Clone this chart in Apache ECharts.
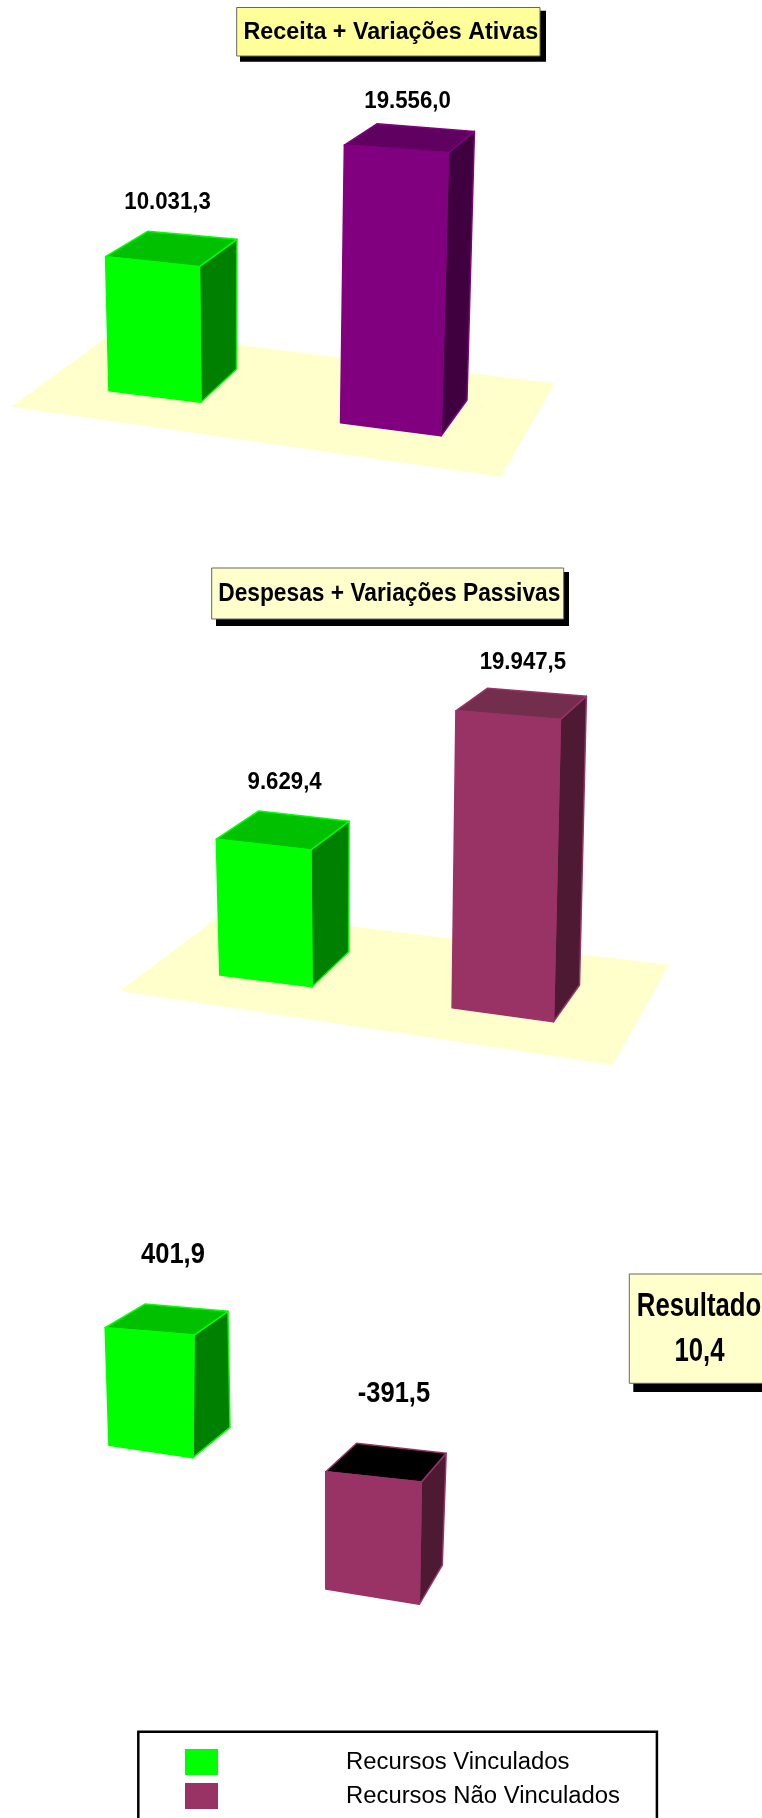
<!DOCTYPE html>
<html>
<head>
<meta charset="utf-8">
<title>Receita x Despesas</title>
<script src="https://cdn.jsdelivr.net/npm/echarts@6/dist/echarts.min.js"></script>
<style>
  html, body { margin: 0; padding: 0; background: #fff; }
  #main { width: 762px; height: 1818px; }
</style>
</head>
<body>
<div id="main"></div>
<script>
const categories = ['Recursos Vinculados', 'Recursos Não Vinculados']
const receitaValues = [10031.3, 19556.0]
const despesaValues = [9629.4, 19947.5]
const resultadoValues = [401.9, -391.5]
const resultadoTotal = 10.4
const receitaTitle = 'Receita + Variações Ativas'
const despesaTitle = 'Despesas + Variações Passivas'
const resultadoTitle = 'Resultado'

const FONT = '"Liberation Sans", Arial, sans-serif'
// 'middle' deixa as maiusculas um pouco acima do centro
const CAP_SHIFT = 0.09

// cores: frente, topo, lado
const VERDE = { front: '#00ff00', top: '#00c000', side: '#008000' }
const ROXO = { front: '#800080', top: '#600060', side: '#400040' }
const VINHO = { front: '#993366', top: '#732d4d', side: '#4d1933' }

// perspectiva de cada caixa, em pixels relativos ao ponto que vem do eixo
const receitaBoxes = [
    { w: 92, dy: 0, botDy: 11.6, lean: -3.4, topW: 93.8, topDy: 10, backL: [42.1, -25.4], backR: [37.6, -27.4], side: [35.5, -33], k: 0.954, label: [62, -56.4], size: 24, sx: 0.926 },
    { w: 100.6, dy: 32, botDy: 13, lean: 3.8, topW: 104.1, topDy: 7.7, backL: [32.6, -21.3], backR: [26, -21.4], side: [25.8, -35.7], k: 1.014, label: [63.2, -46.3], size: 24, sx: 0.926 }
]
const despesaBoxes = [
    { w: 92.2, dy: 0, botDy: 11.7, lean: -3.5, topW: 94.6, topDy: 10.7, backL: [42.5, -28.3], backR: [38.2, -28.7], side: [36.8, -35], k: 1.007, label: [68.3, -59], size: 24, sx: 0.926 },
    { w: 101.4, dy: 32.7, botDy: 14, lean: 3.8, topW: 104.5, topDy: 8.6, backL: [31.8, -22.7], backR: [26, -23.3], side: [26, -36.7], k: 1.063, label: [67, -50.4], size: 24, sx: 0.926 }
]
const resultadoBoxes = [
    { w: 84, dy: 0, botDy: 12.4, lean: -3.8, topW: 88.8, topDy: 7.3, backL: [39.8, -23.7], backR: [34, -23.7], side: [37, -30.4], k: 0.975, label: [67.8, -76], size: 30, sx: 0.85 },
    { w: 93.5, dy: 26.4, botDy: 15.3, lean: 0, topW: 95.6, topDy: 10.3, backL: [30.8, -28.4], backR: [24.8, -28.7], side: [23, -39.3], k: 0.999, label: [68.2, -81], size: 30, sx: 0.85 }
]
const receitaFloor = [[-143.5, 16], [346, 86], [400, -7.4], [-39, -60.4]]
const despesaFloor = [[-146, 16], [346.9, 90], [403.2, -10], [-39.5, -64]]

function formatBR(v) {
    const parts = Math.abs(v).toFixed(1).split('.')
    const inteiro = parts[0].replace(/\B(?=(\d{3})+$)/g, '.')
    return (v < 0 ? '-' : '') + inteiro + ',' + parts[1]
}

function boxSeries(name, value, index, panel, box, color) {
    return {
        type: 'custom',
        name: name,
        xAxisIndex: panel,
        yAxisIndex: panel,
        z: 3,
        silent: true,
        data: [[index, value]],
        renderItem: function (params, api) {
            const v = api.value(1)
            const zero = api.coord([api.value(0), 0])
            const end = api.coord([api.value(0), v])
            const h = Math.abs(zero[1] - end[1]) * box.k
            const ax = zero[0] - box.w / 2
            const ay = zero[1] + box.dy
            // barra negativa desce a partir do plano zero
            const bl = v >= 0 ? [ax, ay] : [ax, ay + h]
            const tl = [ax + box.lean, bl[1] - h]
            const br = [bl[0] + box.w, bl[1] + box.botDy]
            const tr = [tl[0] + box.topW, tl[1] + box.topDy]
            const bkL = [tl[0] + box.backL[0], tl[1] + box.backL[1]]
            const bkR = [tr[0] + box.backR[0], tr[1] + box.backR[1]]
            const sd = [br[0] + box.side[0], br[1] + box.side[1]]
            const face = (points, fill) => ({
                type: 'polygon',
                shape: { points: points },
                style: { fill: fill, stroke: color.front, lineWidth: 1.5, lineJoin: 'round' }
            })
            return {
                type: 'group',
                children: [
                    face([tr, bkR, sd, br], color.side),
                    face([tl, bkL, bkR, tr], v < 0 ? '#000000' : color.top),
                    face([bl, tl, tr, br], color.front),
                    {
                        type: 'text',
                        x: tl[0] + box.label[0],
                        y: tl[1] + box.label[1] + box.size * CAP_SHIFT,
                        scaleX: box.sx,
                        style: {
                            text: formatBR(v),
                            fontFamily: FONT,
                            fontWeight: 'bold',
                            fontSize: box.size,
                            fill: '#000',
                            align: 'center',
                            verticalAlign: 'middle'
                        }
                    }
                ]
            }
        }
    }
}

function floorSeries(panel, offsets) {
    return {
        type: 'custom',
        xAxisIndex: panel,
        yAxisIndex: panel,
        z: 1,
        silent: true,
        data: [[0, 0]],
        renderItem: function (params, api) {
            const zero = api.coord([api.value(0), api.value(1)])
            return {
                type: 'polygon',
                shape: { points: offsets.map(p => [zero[0] + p[0], zero[1] + p[1]]) },
                style: { fill: '#ffffcc' }
            }
        }
    }
}

// caixa de titulo com sombra preta
function titleBox(box, shadow, fill) {
    return [
        { type: 'rect', z: 5, shape: shadow, style: { fill: '#000' } },
        { type: 'rect', z: 6, shape: box, style: { fill: fill, stroke: '#666', lineWidth: 1 } }
    ]
}

function titleText(text, x, y, size, sx) {
    return {
        type: 'text', z: 7, x: x, y: y + size * CAP_SHIFT, scaleX: sx,
        style: { text: text, fontFamily: FONT, fontWeight: 'bold', fontSize: size, fill: '#000', align: 'center', verticalAlign: 'middle' }
    }
}

const axisOff = { show: false }

const option = {
    animation: false,
    backgroundColor: '#fff',
    grid: [
        { left: 37, width: 471.8, top: 40.7, height: 350 },
        { left: 147.45, width: 473.8, top: 625, height: 350 },
        { left: 40.2, width: 443.1, top: 1295.3, height: 300 }
    ],
    xAxis: [0, 1, 2].map(i => ({ ...axisOff, type: 'category', gridIndex: i, data: categories })),
    yAxis: [
        { ...axisOff, type: 'value', gridIndex: 0, min: 0, max: 25000 },
        { ...axisOff, type: 'value', gridIndex: 1, min: 0, max: 25000 },
        { ...axisOff, type: 'value', gridIndex: 2, min: -500, max: 500 }
    ],
    legend: {
        left: 138.3,
        top: 1731.7,
        height: 60,
        orient: 'vertical',
        selectedMode: false,
        borderColor: '#000',
        borderWidth: 2.5,
        padding: [17.3, 37, 40, 46.7],
        itemWidth: 33,
        itemHeight: 26,
        itemGap: 8,
        textStyle: { fontFamily: FONT, fontSize: 23.85, color: '#000', padding: [0, 0, 0, 123] },
        data: [
            { name: categories[0], icon: 'rect', itemStyle: { color: VERDE.front } },
            { name: categories[1], icon: 'rect', itemStyle: { color: VINHO.front } }
        ]
    },
    graphic: { elements: [
        ...titleBox({ x: 236.7, y: 7.5, width: 303.3, height: 48.5 }, { x: 240, y: 10.7, width: 306, height: 51 }, '#ffff99'),
        titleText(receitaTitle, 390.8, 30, 23.3, 1),
        ...titleBox({ x: 211.7, y: 568, width: 352, height: 51 }, { x: 216, y: 572, width: 353, height: 54 }, '#ffffcc'),
        titleText(despesaTitle, 389.3, 591.7, 25, 0.91),
        ...titleBox({ x: 629.3, y: 1274, width: 140, height: 109.3 }, { x: 633.3, y: 1279, width: 140, height: 113 }, '#ffffcc'),
        titleText(resultadoTitle, 699, 1304.5, 32.6, 0.79),
        titleText(formatBR(resultadoTotal), 699.5, 1348.7, 32.6, 0.79)
    ] },
    series: [
        floorSeries(0, receitaFloor),
        floorSeries(1, despesaFloor),
        boxSeries(categories[0], receitaValues[0], 0, 0, receitaBoxes[0], VERDE),
        boxSeries(categories[1], receitaValues[1], 1, 0, receitaBoxes[1], ROXO),
        boxSeries(categories[0], despesaValues[0], 0, 1, despesaBoxes[0], VERDE),
        boxSeries(categories[1], despesaValues[1], 1, 1, despesaBoxes[1], VINHO),
        boxSeries(categories[0], resultadoValues[0], 0, 2, resultadoBoxes[0], VERDE),
        boxSeries(categories[1], resultadoValues[1], 1, 2, resultadoBoxes[1], VINHO)
    ]
}

const myChart = echarts.init(document.getElementById('main'))
myChart.setOption(option)
</script>
</body>
</html>
